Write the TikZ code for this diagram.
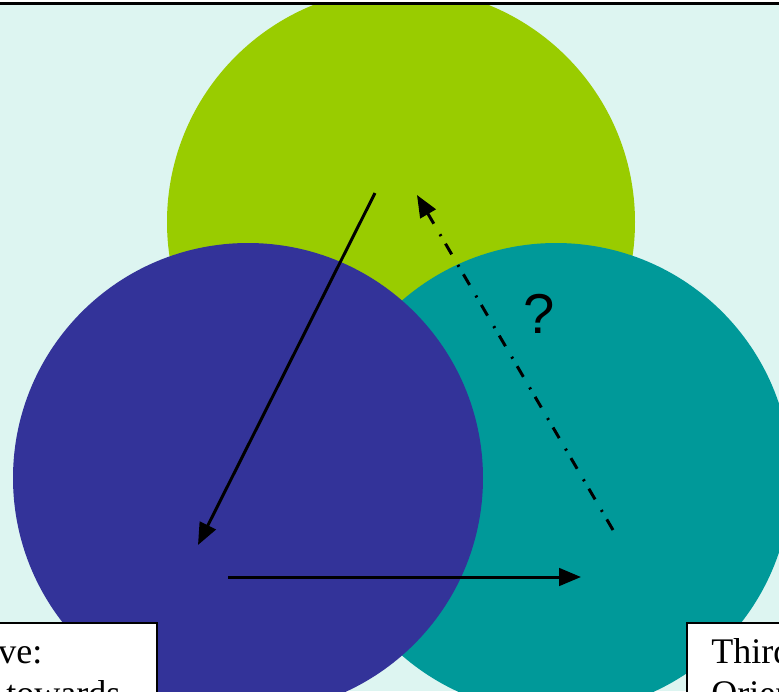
\documentclass[tikz,border=0pt]{standalone}
\usepackage{fontspec}
\setmainfont{Liberation Serif}
\newfontfamily\qfont{Liberation Sans}
\usetikzlibrary{arrows.meta}
\definecolor{slidebg}{HTML}{DDF5F1}
\definecolor{lime}{HTML}{99CC00}
\definecolor{indigo}{HTML}{333399}
\definecolor{petrol}{HTML}{009999}

\begin{document}
\begin{tikzpicture}[x=0.02cm,y=-0.02cm,
  disc/.style={draw=none},
  flow/.style={-{Triangle[length=12.5pt,width=10pt]},line width=1.7pt,draw=black},
  guess/.style={flow,dash pattern=on 7pt off 5pt on 1.2pt off 7pt},
  textbox/.style={draw=black,line width=1.1pt,fill=white},
  boxtext/.style={anchor=base west,inner sep=0pt,font=\fontsize{20.5}{24}\selectfont}
]
\useasboundingbox (0,0) rectangle (779,691);
\clip (0,0) rectangle (779,691);
\fill[white] (0,0) rectangle (779,691);
\fill[slidebg] (0,5) rectangle (779,691);

% three overlapping circles
\begin{scope}
  \clip (0,5) rectangle (779,691);
  \fill[disc,lime] (401,222) circle[radius=234];
  \fill[disc,petrol] (556,478) circle[radius=235];
  \fill[disc,indigo] (248,478) circle[radius=235];
\end{scope}
\draw[line width=1.7pt] (0,3.5) -- (779,3.5);

% points the arrows join
\coordinate (topstart) at (375,193);
\coordinate (lefttip) at (198,545);
\coordinate (leftstart) at (228,577);
\coordinate (righttip) at (581,577);
\coordinate (rightstart) at (613,530);
\coordinate (toptip) at (417,195);

\draw[flow] (topstart) -- (lefttip);
\draw[flow] (leftstart) -- (righttip);
\draw[guess] (rightstart) -- (toptip);
\node[font=\qfont\fontsize{32}{32}\selectfont,inner sep=0pt] (qmark) at (539,314) {?};

% cut-off text boxes
\node[textbox,anchor=north east,minimum width=200*0.02cm,minimum height=120*0.02cm] (leftbox) at (158,622) {};
\node[boxtext] (lefttext1) at (-2,663) {ve:};
\node[boxtext] (lefttext2) at (6,705) {towards};
\node[textbox,anchor=north west,minimum width=200*0.02cm,minimum height=120*0.02cm] (rightbox) at (686,622) {};
\node[boxtext] (righttext1) at (711,663) {Third};
\node[boxtext] (righttext2) at (711,705) {Orient};
\end{tikzpicture}
\end{document}
